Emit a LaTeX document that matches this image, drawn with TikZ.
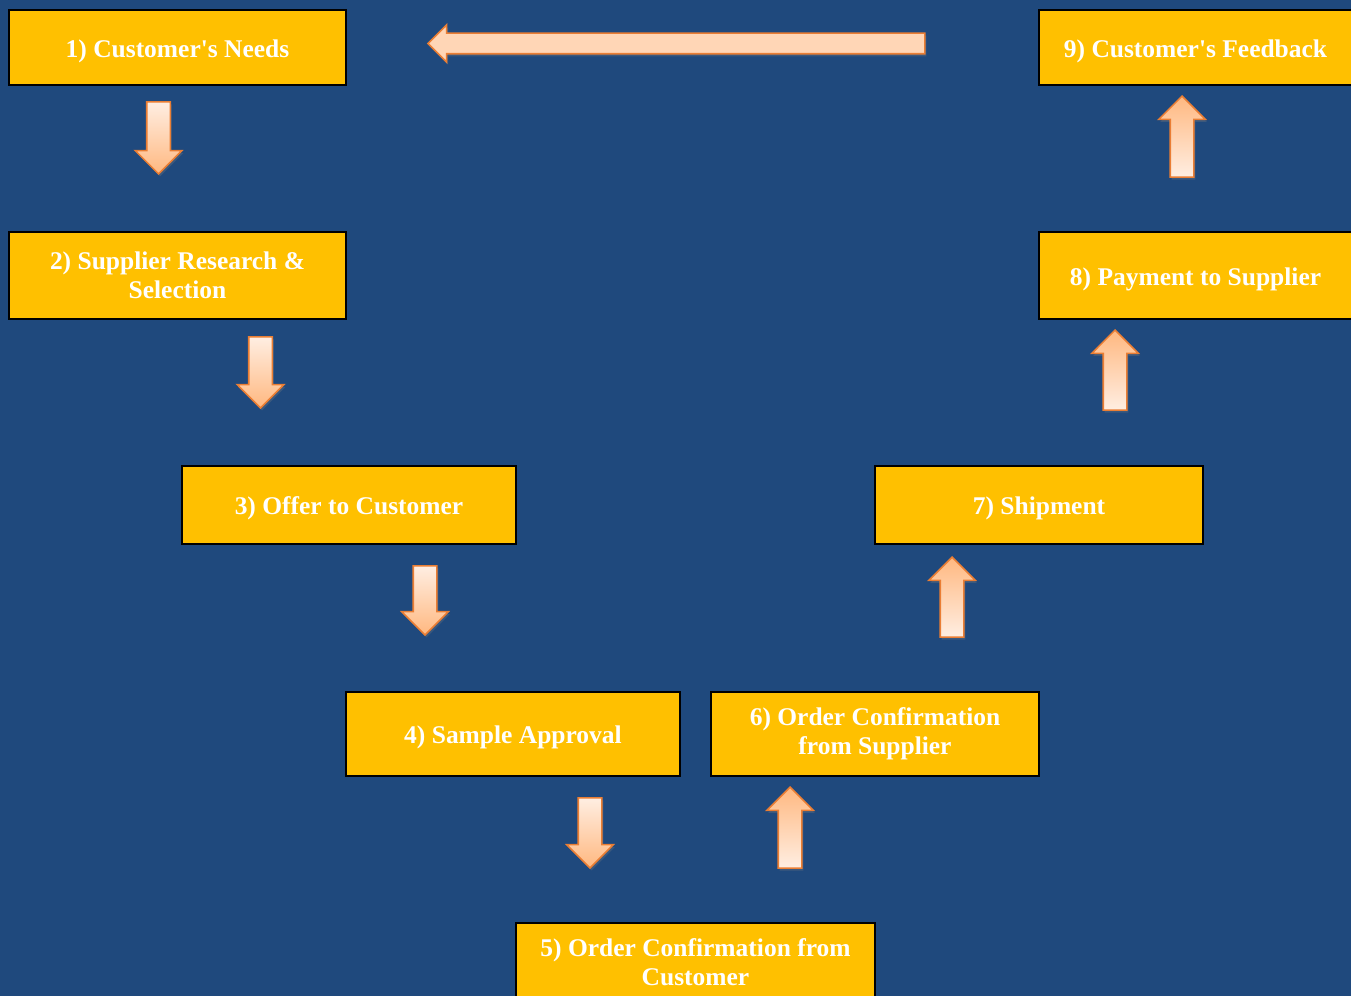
\documentclass[tikz,border=0pt]{standalone}
\usepackage{fontspec}
\setmainfont{Liberation Serif}
\usetikzlibrary{shapes,shapes.arrows,shadows,positioning}
\definecolor{bgblue}{RGB}{31,73,125}
\definecolor{boxgold}{RGB}{255,192,0}
\definecolor{peachlight}{RGB}{255,238,226}
\definecolor{peachdark}{RGB}{255,184,128}
\definecolor{peachline}{RGB}{234,126,52}
\definecolor{peachflat}{RGB}{255,214,182}
\newcommand{\boxfont}{\fontsize{14.5}{16.5}\selectfont\bfseries}
\tikzset{
    stepbox/.style = { draw=black, line width=0.9pt, rectangle, align=center,
        fill=boxgold, text=white,
        font=\boxfont,
        execute at begin node={\rule{0pt}{14pt}},
        inner sep=0pt
    },
    flowarrow/.style = { single arrow, draw=peachline, line width=0.9pt,
        inner sep=0.22cm,
        minimum height=#1,
        single arrow head extend=0.23cm,
        drop shadow={opacity=0.3, shadow xshift=0.03cm, shadow yshift=-0.05cm}
    },
    downarrow/.style = { flowarrow=#1, rotate=-90,
        top color=peachlight, bottom color=peachdark
    },
    uparrow/.style = { flowarrow=#1, rotate=90,
        top color=peachdark, bottom color=peachlight
    },
    longarrow/.style = { single arrow, draw=peachline, line width=0.9pt,
        inner sep=0.19cm,
        minimum height=#1,
        single arrow head extend=0.17cm,
        fill=peachflat,
        drop shadow={opacity=0.3, shadow xshift=0.03cm, shadow yshift=-0.05cm}
    }
}

\begin{document}
\begin{tikzpicture}[x=0.02cm, y=-0.02cm]
        \fill[bgblue] (0,0) rectangle (1351,996);
        \useasboundingbox (0,0) rectangle (1351,996);
        \clip (0,0) rectangle (1351,996);

        % left side, going down...
        \node[stepbox, minimum width=6.74cm, minimum height=1.50cm] (s1) at (177.5,47.5) {1) Customer\textquotesingle s Needs};
        \node[stepbox, minimum width=6.74cm, minimum height=1.74cm] (s2) at (177.5,275.5) {2) Supplier Research \&\\ Selection};
        \node[stepbox, minimum width=6.68cm, minimum height=1.56cm] (s3) at (349,505) {3) Offer to Customer};
        \node[stepbox, minimum width=6.68cm, minimum height=1.68cm] (s4) at (513,734) {4) Sample Approval};
        \node[stepbox, minimum width=7.18cm, minimum height=1.56cm] (s5) at (695.5,962) {5) Order Confirmation from\\ Customer};

        % right side, going up...
        \node[stepbox, minimum width=6.56cm, minimum height=1.68cm] (s6) at (875,734) {6) Order Confirmation\\ from Supplier};
        \node[stepbox, minimum width=6.56cm, minimum height=1.56cm] (s7) at (1039,505) {7) Shipment};
        \node[stepbox, minimum width=6.26cm, minimum height=1.74cm] (s8) at (1195.5,275.5) {8) Payment to Supplier};
        \node[stepbox, minimum width=6.26cm, minimum height=1.50cm] (s9) at (1195.5,47.5) {9) Customer\textquotesingle s Feedback};

        % block arrows...
        \node[downarrow=1.44cm] (a12) at (158.5,132) {};
        \node[downarrow=1.42cm] (a23) at (260.5,366.5) {};
        \node[downarrow=1.38cm] (a34) at (425,594.5) {};
        \node[downarrow=1.40cm] (a45) at (590,827) {};
        \node[uparrow=1.62cm] (a56) at (790,833.5) {};
        \node[uparrow=1.60cm] (a67) at (952,603) {};
        \node[uparrow=1.60cm] (a78) at (1115,376) {};
        \node[uparrow=1.62cm] (a89) at (1182,142.5) {};

        % back to the start...
        \node[longarrow=9.94cm, rotate=180] (a91) at (681.5,43.5) {};
\end{tikzpicture}
\end{document}
